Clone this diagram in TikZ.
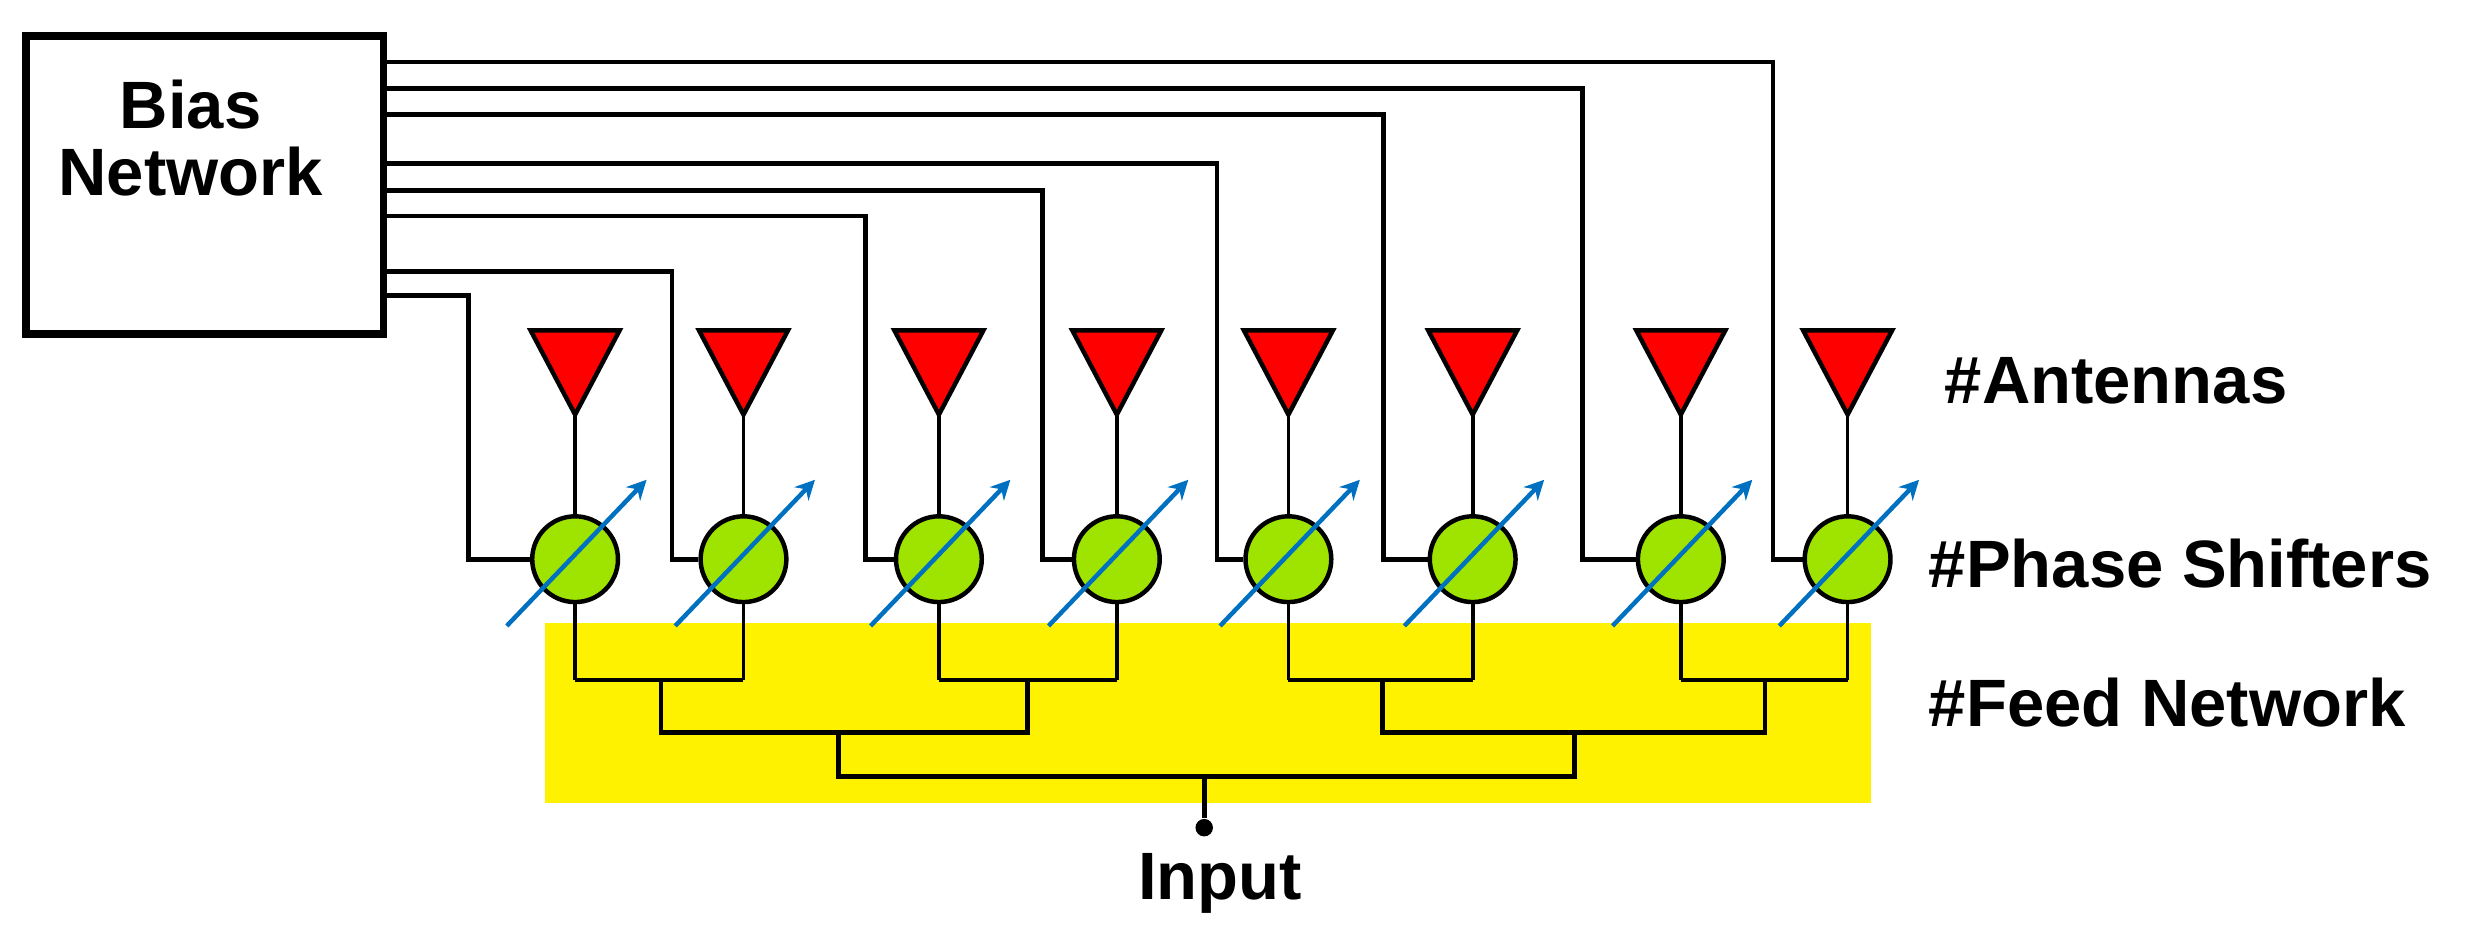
\documentclass[tikz,border=0pt]{standalone}
\usepackage{fontspec}
\setmainfont{Liberation Sans}
\usetikzlibrary{arrows.meta}
\definecolor{ps}{HTML}{9FE400}
\definecolor{ar}{HTML}{0070C0}
\definecolor{fy}{HTML}{FFF200}
\begin{document}
\begin{tikzpicture}[x=0.02cm,y=-0.02cm,
  wire/.style={line width=1.7pt},
  stem/.style={line width=1.3pt},
  ant/.style={fill=red,draw=black,line width=1.6pt,line join=miter},
  shifter/.style={circle,fill=ps,draw=black,line width=1.6pt,minimum size=1.08cm,inner sep=0pt},
  tune/.style={draw=ar,line width=1.6pt,-{Stealth[length=7pt,width=7pt]}},
  lbl/.style={font=\fontsize{24}{26}\selectfont\bfseries}]
\useasboundingbox (0,0) rectangle (1568,588.5);
\fill[fy] (343,392) rectangle (1178,505.5);
\node[draw,line width=2.8pt,minimum width=4.5cm,minimum height=3.76cm,anchor=north west,inner sep=0pt] (bias) at (14,20) {};
\node[lbl,align=center] (bt) at (120,87) {Bias\\[-2pt]Network};
\foreach \i/\x/\by/\bx in {1/362/186/295,2/468/171/423,3/591/136/545,4/703/120/656,5/811/103/766,6/927/72/871,7/1058/55.5/996,8/1163/39/1116}{
  \node[shifter] (p\i) at (\x,352) {};
  \coordinate (t\i) at (\x,261);
  \draw[ant] (\x-28,208) -- (\x+28,208) -- (t\i) -- cycle;
  \draw[stem] (t\i) -- (p\i.north);
  \coordinate (b\i) at (239,\by);
  \draw[wire] (b\i) -| (\bx,352) -- (p\i.west);
  \coordinate (f\i) at (\x,428);
  \draw[stem] (p\i.south) -- (f\i);
  \coordinate (ts\i) at (\x-43,394);
  \coordinate (te\i) at (\x+45,302);
  \draw[tune] (ts\i) -- (te\i);
}
\draw[wire] (f1) -- (f2) (f3) -- (f4) (f5) -- (f6) (f7) -- (f8);
\coordinate (g1) at (416,428); \coordinate (g2) at (647,428);
\coordinate (g3) at (870,428); \coordinate (g4) at (1111,428);
\coordinate (h1) at (416,461); \coordinate (h2) at (647,461);
\coordinate (h3) at (870,461); \coordinate (h4) at (1111,461);
\draw[wire] (g1) -- (h1) -- (h2) -- (g2) (g3) -- (h3) -- (h4) -- (g4);
\coordinate (k1) at (528,461); \coordinate (k2) at (991,461);
\coordinate (m1) at (528,489); \coordinate (m2) at (991,489);
\draw[wire] (k1) -- (m1) -- (m2) -- (k2);
\coordinate (c0) at (758,489);
\node[circle,fill=black,minimum size=0.22cm,inner sep=0pt] (in) at (758,521) {};
\draw[wire] (c0) -- (in);
\node[lbl] (inl) at (768,556) {Input};
\node[lbl,anchor=west] (l1) at (1218,240) {\#Antennas};
\node[lbl,anchor=west] (l2) at (1208,355) {\#Phase Shifters};
\node[lbl,anchor=west] (l3) at (1208,442) {\#Feed Network};
\end{tikzpicture}
\end{document}
